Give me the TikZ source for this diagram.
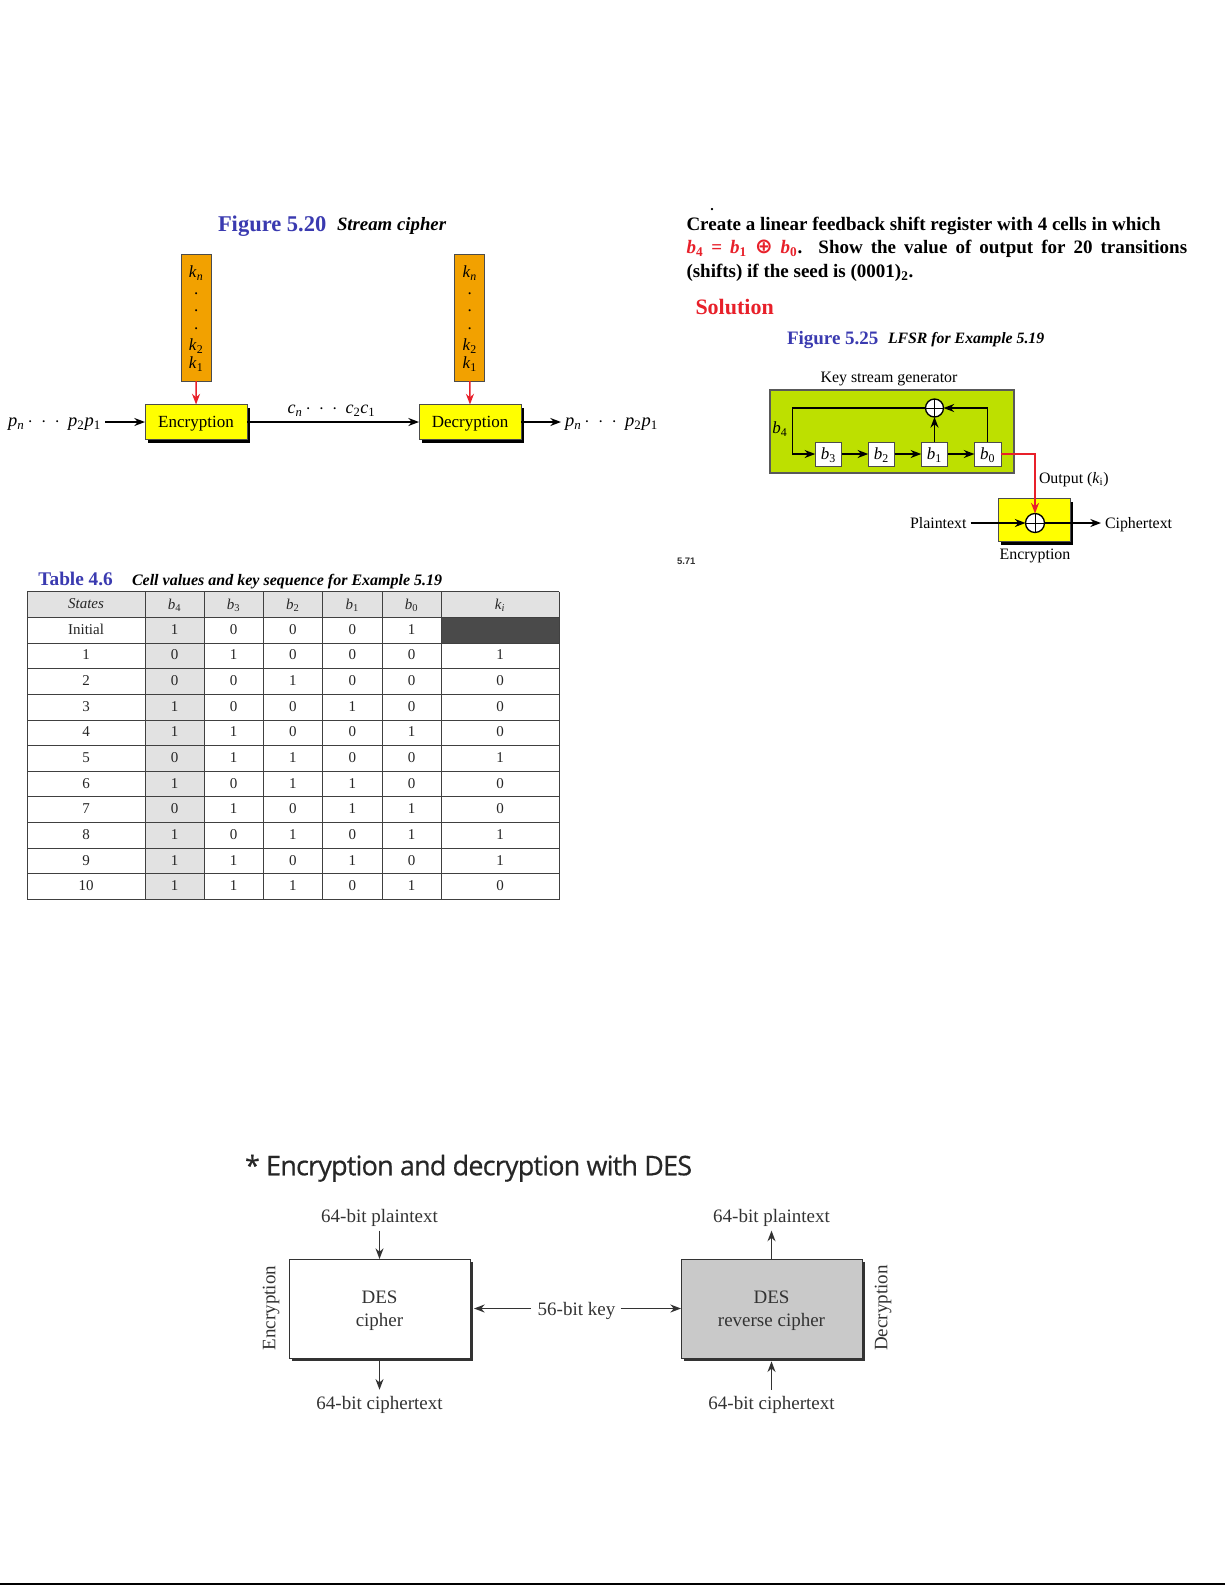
\documentclass[tikz,border=0pt]{standalone}
\usepackage{fontspec}
\setmainfont{Liberation Serif}
\newfontfamily\titlefont[FakeBold=0.5,LetterSpace=-3]{Open Sans}
\newfontfamily\smallfont{Liberation Sans}
\newfontfamily\symfont{DejaVu Sans}
\usetikzlibrary{arrows.meta,shadows}
\newcommand{\sz}[1]{\fontsize{\dimexpr#1pt*3/4\relax}{\dimexpr#1pt*9/10\relax}\selectfont}
\newcommand{\vv}[2]{\textit{#1}\textsubscript{\textit{#2}}}
\newcommand{\vr}[2]{\textit{#1}\textsubscript{#2}}
\definecolor{figblue}{HTML}{3A3AB0}
\definecolor{keyorange}{HTML}{F2A100}
\definecolor{boxyellow}{HTML}{FFFF00}
\definecolor{lfsrgreen}{HTML}{BDE000}
\definecolor{redline}{HTML}{E8202A}
\definecolor{headgray}{HTML}{E2E2E2}
\definecolor{darkcell}{HTML}{4A4A4A}
\definecolor{desgray}{HTML}{C9C9C9}
\definecolor{inkgray}{HTML}{333333}
\tikzset{
  every node/.style={inner sep=0pt,outer sep=0pt,text depth=0pt},
  tipa/.style={-{Stealth[length=8pt,width=6pt]}},
  flow/.style={draw=black,line width=1.1pt,tipa},
  redflow/.style={draw=redline,line width=1.1pt,tipa},
  keybar/.style={draw=black!70,line width=.7pt,fill=keyorange,minimum width=30*.75pt,minimum height=127*.75pt},
  shadowed/.style={drop shadow={shadow xshift=2.6pt,shadow yshift=-2.6pt,fill=black,opacity=1}},
  cryptbox/.style={draw=black!70,line width=.7pt,fill=boxyellow,shadowed,minimum width=102*.75pt,minimum height=35*.75pt,font=\sz{17}},
  reg/.style={draw=black!70,line width=.6pt,fill=white,minimum width=26.5*.75pt,minimum height=24*.75pt,font=\sz{17}},
  xorgate/.style={circle,draw=black,line width=1pt,fill=white,minimum size=15*.75pt,
    path picture={\draw[line width=.6pt] (path picture bounding box.north)--(path picture bounding box.south)
      (path picture bounding box.west)--(path picture bounding box.east);}},
  label17/.style={font=\sz{17}},
  label16/.style={font=\sz{15.9}},
  cellt/.style={font=\sz{15},text=black!85},
  destext/.style={font=\sz{19},text=inkgray},
  desbox/.style={draw=inkgray,line width=.6pt,drop shadow={shadow xshift=2.6pt,shadow yshift=-2.6pt,fill=inkgray,opacity=1},minimum width=181*.75pt,minimum height=99*.75pt},
  desflow/.style={draw=inkgray,line width=1.1pt,tipa},
  tline/.style={draw=black!75,line width=.65pt},
}
\begin{document}
\begin{tikzpicture}[x=.75pt,y=-.75pt]
\useasboundingbox (0,0) rectangle (1225,1585);
\fill[white] (0,0) rectangle (1225,1585);
% ---- Figure 5.20
\node[anchor=west,font=\bfseries\sz{22.5},text=figblue] (t520) at (218,223.5) {Figure 5.20};
\node[anchor=west,font=\bfseries\itshape\sz{18.8}] (t520b) at (337,224) {Stream cipher};
\node[keybar] (k1) at (196.2,317.5) {};
\node[keybar] (k2) at (469.8,317.5) {};
\foreach \xx/\nn in {196.2/ka,469.8/kb}{
  \node[label17] (\nn n) at (\xx,272) {\vv{k}{n}};
  \node[label17] (\nn a) at (\xx,294) {.};
  \node[label17] (\nn b) at (\xx,311) {.};
  \node[label17] (\nn c) at (\xx,329) {.};
  \node[label17] (\nn t) at (\xx,345) {\vr{k}{2}};
  \node[label17] (\nn o) at (\xx,363) {\vr{k}{1}};
}
\node[cryptbox] (enc) at (196,422) {Encryption};
\node[cryptbox] (dec) at (470,422) {Decryption};
\node[anchor=east,font=\sz{18.5}] (pin) at (101,422) {\vv{p}{n}\,$\cdot$\;\,$\cdot$\;\,$\cdot$\;\,\vr{p}{2}\vr{p}{1}};
\node[anchor=west,font=\sz{18.5}] (pout) at (565,422) {\vv{p}{n}\,$\cdot$\;\,$\cdot$\;\,$\cdot$\;\,\vr{p}{2}\vr{p}{1}};
\node[font=\sz{18}] (cseq) at (331.5,409) {\vv{c}{n}\,$\cdot$\;\,$\cdot$\;\,$\cdot$\;\,\vr{c}{2}\vr{c}{1}};
\draw[flow] ([xshift=3pt]pin.east) -- (enc);
\draw[flow] (enc) -- (dec);
\draw[flow] (dec) -- ([xshift=-3pt]pout.west);
\draw[redflow] (k1) -- (enc);
\draw[redflow] (k2) -- (dec);
% ---- Problem text
\node[font=\bfseries\sz{14}] (dot) at (712,209) {.};
\node[anchor=west,font=\bfseries\sz{19}] (l1) at (686.5,223.5) {Create a linear feedback shift register with 4 cells in which};
\node[anchor=west,font=\bfseries\sz{19}] (l2) at (686.5,247) {\makebox[375.5pt][s]{\textcolor{redline}{\textit{b}\textsubscript{4} = \textit{b}\textsubscript{1} {\symfont\bfseries\sz{21}⊕} \textit{b}\textsubscript{0}}. Show the value of output for 20 transitions}};
\node[anchor=west,font=\bfseries\sz{19}] (l3) at (686.5,270.5) {(shifts) if the seed is (0001)\textsubscript{2}.};
\node[anchor=west,font=\bfseries\sz{22},text=redline] (sol) at (695.5,307) {Solution};
\node[anchor=west,font=\bfseries\sz{19},text=figblue] (t525) at (787,337.5) {Figure 5.25};
\node[anchor=west,font=\bfseries\itshape\sz{15.8}] (t525b) at (888,338) {LFSR for Example 5.19};
% ---- LFSR
\node[label16,anchor=center] (ksg) at (889,377) {Key stream generator};
\node[draw=black!65,line width=.8pt,fill=lfsrgreen,minimum width=244*.75pt,minimum height=83*.75pt] (gen) at (892,431.5) {};
\node[reg] (b3) at (828.5,454) {\vr{b}{3}};
\node[reg] (b2) at (881.5,454) {\vr{b}{2}};
\node[reg] (b1) at (934.5,454) {\vr{b}{1}};
\node[reg] (b0) at (987.7,454) {\vr{b}{0}};
\node[xorgate,minimum size=18*.75pt] (fx) at (934.5,408) {};
\node[label17] (b4) at (780,428) {\vr{b}{4}};
\coordinate (fl) at (792.5,408);
\draw[flow] (fx.west) -- (fl) |- (b3.west);
\draw[flow] (b3) -- (b2);
\draw[flow] (b2) -- (b1);
\draw[flow] (b1) -- (b0);
\draw[flow] (b1) -- (fx);
\draw[flow] (b0.north) |- (fx.east);
\node[cryptbox,minimum width=72*.75pt,minimum height=43*.75pt] (encb) at (1034,520) {};
\node[xorgate,minimum size=19*.75pt] (ex) at (1035,523) {};
\node[anchor=west,label16] (ptx) at (910,523) {Plaintext};
\node[anchor=west,label16] (ctx) at (1105,523) {Ciphertext};
\node[anchor=center,label16] (etx) at (1035,554) {Encryption};
\node[anchor=west,label16] (otx) at (1039,478) {Output (\vr{k}{i})};
\draw[flow] ([xshift=3pt]ptx.east) -- (ex.west);
\draw[flow] (ex.east) -- ([xshift=-3pt]ctx.west);
\draw[redflow] (b0.east) -| (ex.north);
\node[font=\bfseries\smallfont\sz{9.5},text=black!80,anchor=west] (pg) at (677,561) {5.71};
% ---- Table
\node[anchor=west,font=\bfseries\sz{19.3},text=figblue] (t46) at (38.5,579) {Table 4.6};
\node[anchor=west,font=\bfseries\itshape\sz{16}] (t46b) at (132,580) {Cell values and key sequence for Example 5.19};
\fill[headgray] (27,591.7) rectangle (559,617.3);
\fill[headgray] (145,617.3) rectangle (204,899.5);
\fill[darkcell] (441.4,617.3) rectangle (559,643);
\foreach \k in {0,...,12} \draw[tline] (27,{591.7+\k*25.65}) -- (559,{591.7+\k*25.65});
\foreach \x in {27,145,204,263,322.5,382,441.4,559} \draw[tline] (\x,591.7) -- (\x,899.5);
\node[cellt,font=\itshape\sz{15}] (hs) at (86,604) {States};
\node[cellt] (h4) at (174.5,604) {\vr{b}{4}};
\node[cellt] (h3) at (233.5,604) {\vr{b}{3}};
\node[cellt] (h2) at (292.75,604) {\vr{b}{2}};
\node[cellt] (h1) at (352.25,604) {\vr{b}{1}};
\node[cellt] (h0) at (411.7,604) {\vr{b}{0}};
\node[cellt] (hk) at (500,604) {\vv{k}{i}};
\foreach \s/\a/\b/\c/\d/\e/\f [count=\i] in {Initial/1/0/0/0/1/,1/0/1/0/0/0/1,2/0/0/1/0/0/0,3/1/0/0/1/0/0,4/1/1/0/0/1/0,5/0/1/1/0/0/1,6/1/0/1/1/0/0,7/0/1/0/1/1/0,8/1/0/1/0/1/1,9/1/1/0/1/0/1,10/1/1/1/0/1/0}{
  \pgfmathsetmacro{\yy}{629.3+(\i-1)*25.65}
  \node[cellt] (s\i) at (86,\yy) {\s};
  \node[cellt] (a\i) at (174.5,\yy) {\a};
  \node[cellt] (b\i) at (233.5,\yy) {\b};
  \node[cellt] (c\i) at (292.75,\yy) {\c};
  \node[cellt] (d\i) at (352.25,\yy) {\d};
  \node[cellt] (e\i) at (411.7,\yy) {\e};
  \node[cellt] (f\i) at (500,\yy) {\f};
}
% ---- DES
\node[anchor=west,font=\titlefont\sz{27},text=black!85] (dt) at (245,1165) {* Encryption and decryption with DES};
\node[desbox,fill=white] (cip) at (379.5,1308.5) {};
\node[desbox,fill=desgray] (rev) at (771.5,1308.5) {};
\node[destext] (d1) at (379.5,1297) {DES};
\node[destext] (d2) at (379.5,1320) {cipher};
\node[destext] (d3) at (771.5,1297) {DES};
\node[destext] (d4) at (771.5,1320) {reverse cipher};
\node[destext] (pl) at (379.5,1216) {64-bit plaintext};
\node[destext] (pr) at (771.5,1216) {64-bit plaintext};
\node[destext] (cl) at (379.5,1403) {64-bit ciphertext};
\node[destext] (cr) at (771.5,1403) {64-bit ciphertext};
\node[destext] (kk) at (576.5,1308.5) {56-bit key};
\node[destext,rotate=90] (re) at (269,1308) {Encryption};
\node[destext,rotate=90] (rd) at (881,1308) {Decryption};
\draw[desflow] ([yshift=-6pt]pl.south) -- (cip.north);
\draw[desflow] ([yshift=-2pt]cip.south) -- ([yshift=5pt]cl.north);
\draw[desflow] (rev.north) -- ([yshift=-6pt]pr.south);
\draw[desflow] ([yshift=5pt]cr.north) -- ([yshift=-2.5pt]rev.south);
\draw[desflow] ([xshift=-5pt]kk.west) -- ([xshift=3pt]cip.east);
\draw[desflow] ([xshift=4pt]kk.east) -- (rev.west);
% ---- bottom rule
\draw[line width=1.5pt,draw=black] (0,1584) -- (1225,1584);
\end{tikzpicture}
\end{document}
